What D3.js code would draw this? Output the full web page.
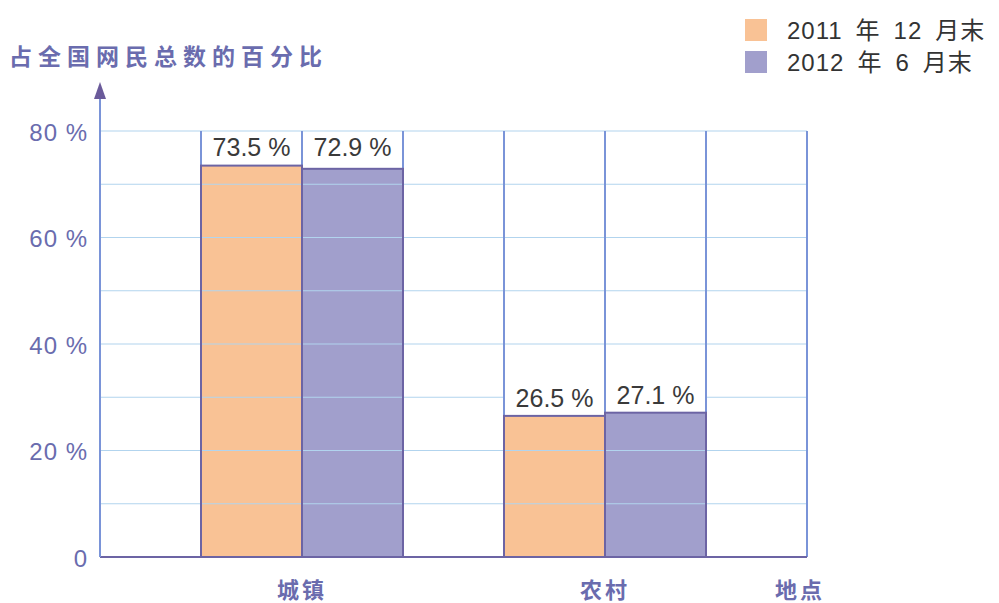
<!DOCTYPE html>
<html>
<head>
<meta charset="utf-8">
<script src="https://cdn.jsdelivr.net/npm/d3@7"></script>
<style>
  html, body { margin: 0; padding: 0; background: #fff; }
  svg { display: block; }
</style>
</head>
<body>
<svg id="chart" width="999" height="603"></svg>
<script>
// Share of China's internet users by place of residence
const categories = ["城镇", "农村"];
const seriesNames = ["2011 年 12 月末", "2012 年 6 月末"];
const values2011 = [73.5, 26.5];
const values2012 = [72.9, 27.1];
const yTickValues = [0, 20, 40, 60, 80];
const yTickLabels = ["0", "20 %", "40 %", "60 %", "80 %"];
const yTitle = "占全国网民总数的百分比";
const xTitle = "地点";

const colors = ["#f9c295", "#a19fcc"];
const axisBlue = "#7a94d8";
const labelPurple = "#6a6cae";

const svg = d3.select("#chart");

// Plot area is a table of 7 equal columns; each category takes two columns
const nCols = 7;
const x = d3.scaleLinear().domain([0, nCols]).range([100, 807]);
const y = d3.scaleLinear().domain([0, 80]).range([557, 131]);
const catStart = { "城镇": 1, "农村": 4 };

const rows = categories.map((c, i) => ({ cat: c, vals: [values2011[i], values2012[i]] }));
const bars = [];
rows.forEach(r => r.vals.forEach((v, s) => bars.push({ cat: r.cat, s, v })));

const g = svg.append("g");

// Bars
g.selectAll("rect.bar").data(bars).join("rect")
  .attr("class", "bar")
  .attr("x", d => x(catStart[d.cat] + d.s))
  .attr("y", d => y(d.v))
  .attr("width", x(1) - x(0))
  .attr("height", d => y(0) - y(d.v))
  .attr("fill", d => colors[d.s]);

// Horizontal grid every 10 %
const gridVals = d3.range(10, 81, 10);
g.selectAll("line.hgrid").data(gridVals).join("line")
  .attr("x1", x(0)).attr("x2", x(nCols))
  .attr("y1", d => y(d)).attr("y2", d => y(d))
  .attr("stroke", "#b2d4ee").attr("stroke-width", 1.2);

// Value label cells (white background above each bar)
const cells = g.selectAll("g.cell").data(bars).join("g").attr("class", "cell");
cells.append("rect")
  .attr("x", d => x(catStart[d.cat] + d.s) + 1)
  .attr("y", d => d.v > 60 ? y(80) + 1 : y(d.v) - 31)
  .attr("width", x(1) - x(0) - 2)
  .attr("height", d => d.v > 60 ? y(d.v) - y(80) - 1 : 31)
  .attr("fill", "#fff");

// Vertical column lines
g.selectAll("line.vgrid").data(d3.range(0, nCols + 1)).join("line")
  .attr("x1", d => x(d)).attr("x2", d => x(d))
  .attr("y1", y(80)).attr("y2", y(0))
  .attr("stroke", axisBlue).attr("stroke-width", 2);

// Bar outlines
g.selectAll("rect.outline").data(bars).join("rect")
  .attr("x", d => x(catStart[d.cat] + d.s))
  .attr("y", d => y(d.v))
  .attr("width", x(1) - x(0))
  .attr("height", d => y(0) - y(d.v))
  .attr("fill", "none")
  .attr("stroke", "#6c64a4").attr("stroke-width", 2);

// Value labels
cells.append("text")
  .attr("x", d => x(catStart[d.cat] + d.s + 0.5))
  .attr("y", d => d.v > 60 ? y(80) + 25 : y(d.v) - 9)
  .attr("text-anchor", "middle")
  .attr("font-family", "Liberation Sans, Arial, sans-serif")
  .attr("font-size", 25)
  .attr("fill", "#3a3a3a")
  .text(d => d.v.toFixed(1) + " %");

// Baseline
g.append("line")
  .attr("x1", x(0)).attr("x2", x(nCols))
  .attr("y1", y(0)).attr("y2", y(0))
  .attr("stroke", "#6c64a4").attr("stroke-width", 2);

// Y axis with arrow
g.append("line")
  .attr("x1", x(0)).attr("x2", x(0))
  .attr("y1", y(0)).attr("y2", 95)
  .attr("stroke", axisBlue).attr("stroke-width", 2);
g.append("path")
  .attr("d", `M${x(0)},82 L${x(0) - 6},99 L${x(0) + 6},99 Z`)
  .attr("fill", "#6a5a9a");

// Y tick labels
const yAxis = d3.axisLeft(y).tickValues(yTickValues)
  .tickFormat((d, i) => yTickLabels[i]).tickSize(0).tickPadding(12);
const ya = g.append("g").attr("transform", `translate(${x(0)},0)`).call(yAxis);
ya.select(".domain").remove();
ya.selectAll("text")
  .attr("font-family", "Liberation Sans, Arial, sans-serif")
  .attr("font-size", 24)
  .attr("letter-spacing", 1)
  .attr("fill", labelPurple)
  .attr("dy", "0.38em");

// Category labels
const cjk = "'Noto Sans CJK SC', sans-serif";
g.selectAll("text.cat").data(categories).join("text")
  .attr("x", d => x(catStart[d] + 1))
  .attr("y", 598)
  .attr("text-anchor", "middle")
  .attr("font-family", cjk).attr("font-size", 22).attr("font-weight", 700)
  .attr("letter-spacing", 3)
  .attr("fill", labelPurple)
  .text(d => d);
g.append("text")
  .attr("x", 800).attr("y", 598)
  .attr("text-anchor", "middle")
  .attr("font-family", cjk).attr("font-size", 22).attr("font-weight", 700)
  .attr("letter-spacing", 3)
  .attr("fill", labelPurple)
  .text(xTitle);

// Y axis title
g.append("text")
  .attr("x", 9).attr("y", 65)
  .attr("font-family", cjk).attr("font-size", 23).attr("font-weight", 700)
  .attr("letter-spacing", 6)
  .attr("fill", labelPurple)
  .text(yTitle);

// Legend
const lg = svg.append("g").attr("transform", "translate(745,19)");
const li = lg.selectAll("g").data(seriesNames).join("g")
  .attr("transform", (d, i) => `translate(0,${i * 32})`);
li.append("rect").attr("width", 22).attr("height", 22)
  .attr("fill", (d, i) => colors[i]);
li.append("text").attr("x", 42).attr("y", 20)
  .attr("font-family", "Liberation Sans, 'Noto Sans CJK SC', sans-serif")
  .attr("font-size", 24)
  .attr("letter-spacing", 1)
  .attr("xml:space", "preserve")
  .attr("fill", "#333")
  .text(d => d.replace(/ /g, "\u2002"));
</script>
</body>
</html>
